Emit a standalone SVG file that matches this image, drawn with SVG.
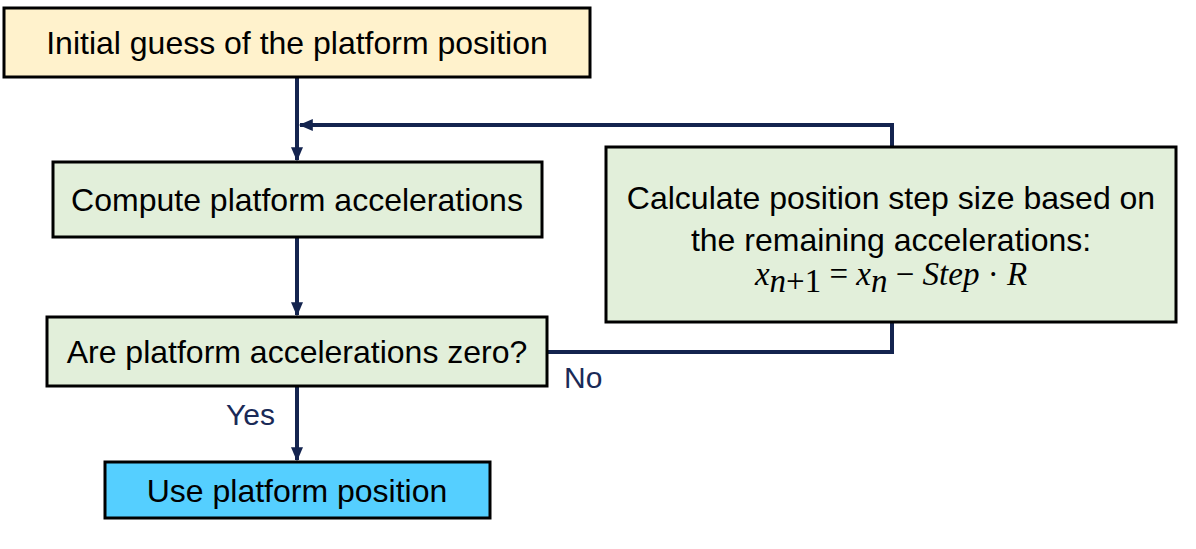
<svg xmlns="http://www.w3.org/2000/svg" width="1196" height="549" viewBox="0 0 1196 549">
<style>
.box{stroke:#000;stroke-width:3}
.t{font-family:"Liberation Sans",Arial,sans-serif;font-size:32px;fill:#000;text-anchor:middle}
.lbl{font-family:"Liberation Sans",Arial,sans-serif;font-size:30px;fill:#1A2A57}
.c{fill:none;stroke:#14244F;stroke-width:4}
.m{font-family:"Liberation Serif","DejaVu Serif",serif;font-style:italic;font-size:33px;fill:#000}
.mu{font-family:"Liberation Serif","DejaVu Serif",serif;font-size:33px;fill:#000}
</style>
<defs>
<marker id="ah" markerWidth="4" markerHeight="4" refX="3.2" refY="2" orient="auto" markerUnits="strokeWidth">
<path d="M0,0.5 L3.5,2 L0,3.5 Z" fill="#14244F"/>
</marker>
</defs>
<rect width="1196" height="549" fill="#fff"/>
<g id="connectors">
<path class="c" d="M297,77 V160" marker-end="url(#ah)"/>
<path class="c" d="M297,237 V315" marker-end="url(#ah)"/>
<path class="c" d="M297,386 V460" marker-end="url(#ah)"/>
<path class="c" d="M547,352 H892 V322"/>
<path class="c" d="M892,147 V125 H300" marker-end="url(#ah)"/>
<text class="lbl" x="226" y="425">Yes</text>
<text class="lbl" x="564" y="388">No</text>
</g>
<g id="n1">
<rect class="box" x="4" y="8" width="586" height="69" fill="#FFF2CC"/>
<text class="t" x="297" y="54">Initial guess of the platform position</text>
</g>
<g id="n2">
<rect class="box" x="53" y="162" width="489" height="75" fill="#E2EFDA"/>
<text class="t" x="297" y="211">Compute platform accelerations</text>
</g>
<g id="n3">
<rect class="box" x="47" y="317" width="500" height="69" fill="#E2EFDA"/>
<text class="t" x="297" y="363">Are platform accelerations zero?</text>
</g>
<g id="n4">
<rect class="box" x="105" y="462" width="385" height="56" fill="#55CFFF"/>
<text class="t" x="297" y="502">Use platform position</text>
</g>
<g id="n5">
<rect class="box" x="606" y="147" width="570" height="175" fill="#E2EFDA"/>
<text class="t" x="891" y="209">Calculate position step size based on</text>
<text class="t" x="891" y="251">the remaining accelerations:</text>
<text x="891" y="285" text-anchor="middle"><tspan class="m">x</tspan><tspan class="m" font-size="24" dy="7">n</tspan><tspan class="mu" font-size="24">+1</tspan><tspan class="mu" dy="-7"> = </tspan><tspan class="m">x</tspan><tspan class="m" font-size="24" dy="7">n</tspan><tspan class="mu" dy="-7"> − </tspan><tspan class="m">Step</tspan><tspan class="mu"> · </tspan><tspan class="m">R</tspan></text>
</g>
</svg>
